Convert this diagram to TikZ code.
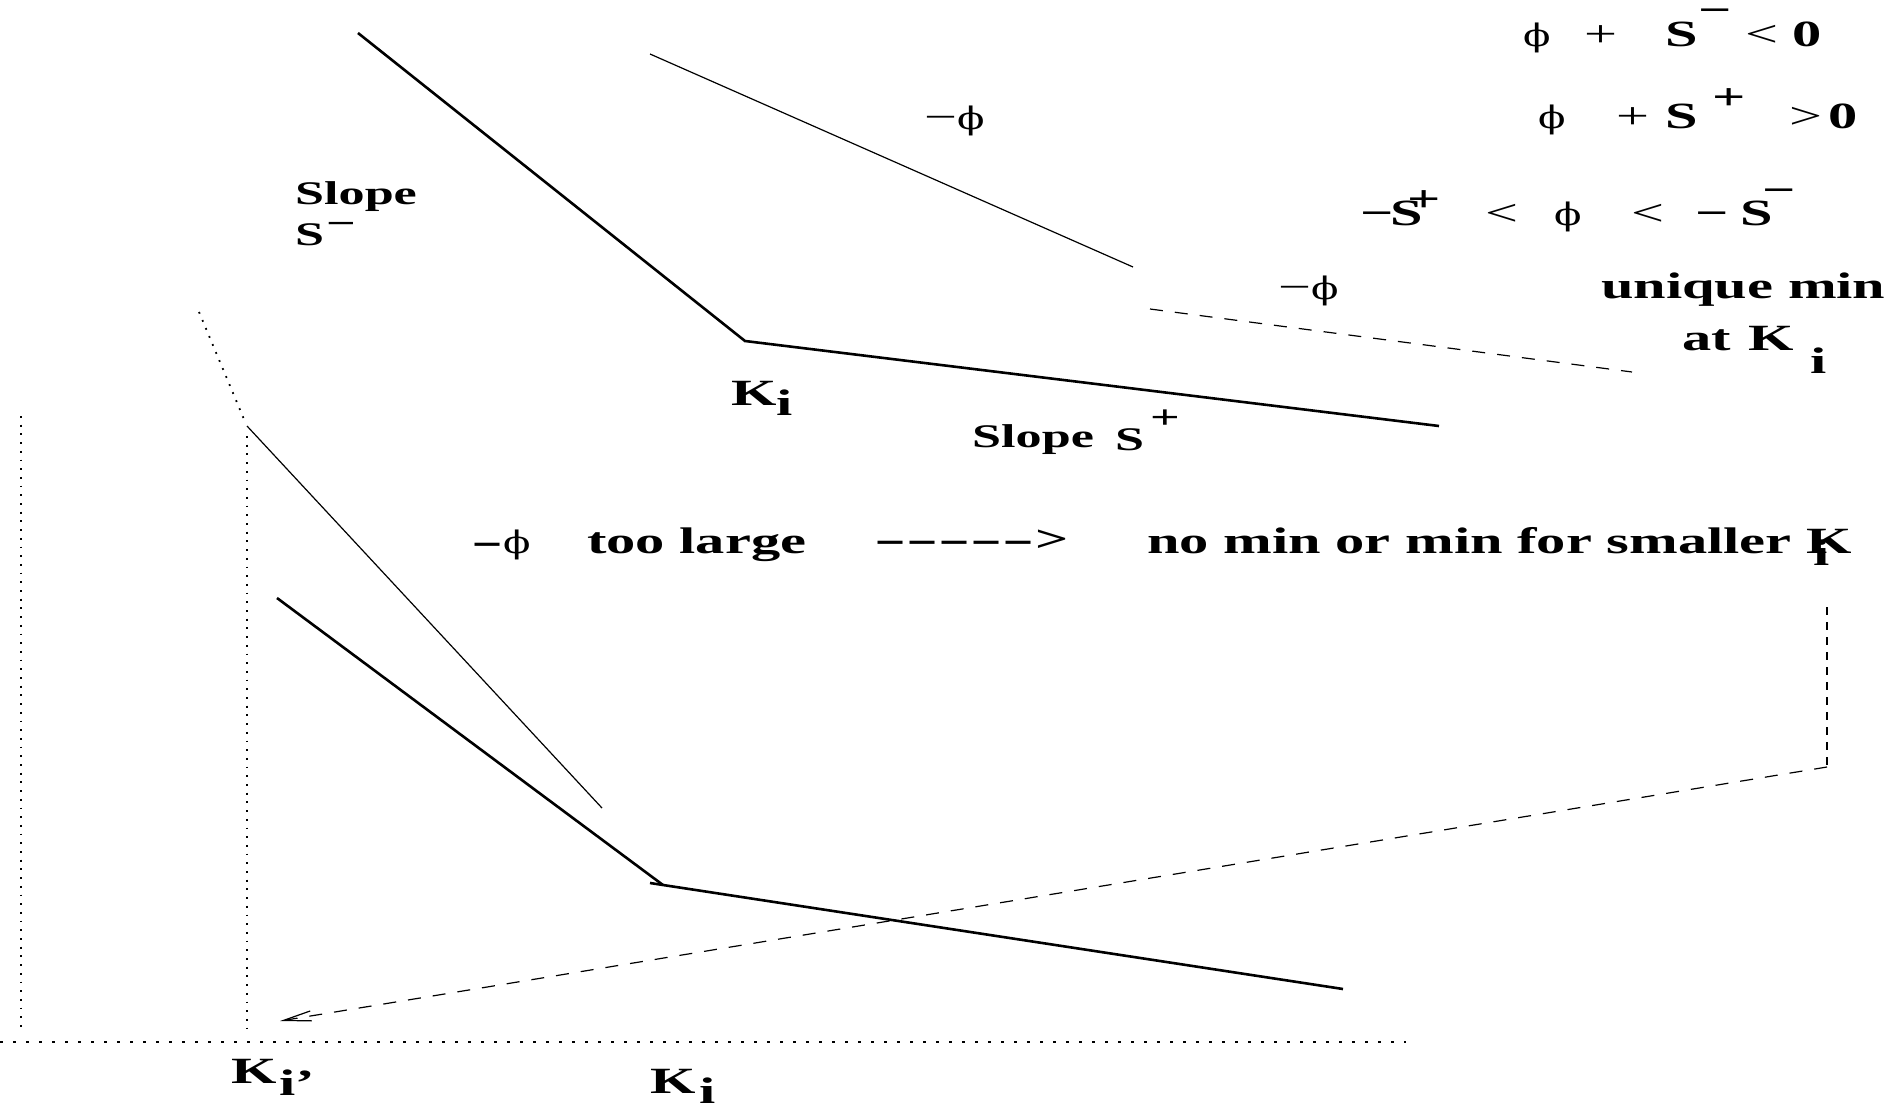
\documentclass[tikz,border=0pt]{standalone}
\usepackage{fontspec}
\setmainfont{Liberation Serif}[FakeStretch=1.58]
\newfontfamily\phif{DejaVu Serif}[FakeStretch=1.3]
\newfontfamily\dashfont{Liberation Serif}[FakeStretch=2.6]
\newcommand{\myphi}{{\phif\fontsize{31}{36}\selectfont ϕ}}
\usetikzlibrary{arrows.meta}
\begin{document}
\begin{tikzpicture}[x=1pt,y=-1pt,
  thickline/.style={line width=2.6pt},
  thinline/.style={line width=1.2pt},
  dashline/.style={line width=1.2pt, dash pattern=on 13pt off 12pt},
  vdashline/.style={line width=1.2pt, dash pattern=on 8pt off 7pt},
  vdots/.style={line width=1.8pt, dash pattern=on 1.8pt off 6.9pt},
  hdots/.style={line width=1.8pt, dash pattern=on 3pt off 10pt},
  bl/.style={inner sep=0pt, anchor=base west, font=\bfseries\fontsize{37}{40}\selectfont},
  rg/.style={inner sep=0pt, anchor=base west, font=\fontsize{37}{40}\selectfont},
  sl/.style={inner sep=0pt, anchor=base west, font=\bfseries\fontsize{33}{36}\selectfont},
  sup/.style={text height=10pt},
]
\useasboundingbox (0,0) rectangle (1887,1106);

% coordinates of the curves
\coordinate (a1) at (358,33);
\coordinate (a2) at (745,341);
\coordinate (a3) at (1439,426);
\coordinate (b1) at (650,54);
\coordinate (b2) at (1133,267);
\coordinate (c1) at (1150,309);
\coordinate (c2) at (1632,372);
\coordinate (d1) at (199,312);
\coordinate (d2) at (246,424);
\coordinate (e1) at (247,426);
\coordinate (e2) at (602,808);
\coordinate (f1) at (277,598);
\coordinate (f2) at (663,885);
\coordinate (f3) at (650,883);
\coordinate (f4) at (1343,989);
\coordinate (g1) at (247,436);
\coordinate (g2) at (247,1036);
\coordinate (h1) at (21,416);
\coordinate (h2) at (21,1032);
\coordinate (i1) at (0,1042);
\coordinate (i2) at (1406,1042);
\coordinate (j1) at (1827,607);
\coordinate (j2) at (1827,767);
\coordinate (j3) at (280,1021);

\draw[thickline] (a1) -- (a2) -- (a3);
\draw[thinline] (b1) -- (b2);
\draw[dashline] (c1) -- (c2);
\draw[vdots] (d1) -- (d2);
\draw[thinline] (e1) -- (e2);
\draw[thickline] (f1) -- (f2);
\draw[thickline] (f3) -- (f4);
\draw[vdots] (g1) -- (g2);
\draw[vdots] (h1) -- (h2);
\draw[hdots] (i1) -- (i2);
\draw[vdashline] (j1) -- (j2);
\draw[dashline, -{Straight Barb[length=28pt,width=10pt]}] (j2) -- (j3);

% top right conditions
\node[rg] (r1a) at (1523,46) {\myphi};
\node[rg] (r1b) at (1584,46) {+};
\node[bl] (r1c) at (1665,46) {S};
\node[bl,sup] (r1d) at (1698,22) {−};
\node[rg] (r1e) at (1745,46) {<};
\node[bl] (r1f) at (1792,46) {0};

\node[rg] (r2a) at (1538,128) {\myphi};
\node[rg] (r2b) at (1616,128) {+};
\node[bl] (r2c) at (1665,128) {S};
\node[bl,sup] (r2d) at (1712,109) {+};
\node[rg] (r2e) at (1789,128) {>};
\node[bl] (r2f) at (1828,128) {0};

\node[bl] (r3a) at (1360,225) {−};
\node[bl] (r3b) at (1390,225) {S};
\node[bl,sup] (r3c) at (1407,211) {+};
\node[rg] (r3d) at (1485,225) {<};
\node[rg] (r3e) at (1554,225) {\myphi};
\node[rg] (r3f) at (1631,225) {<};
\node[bl] (r3g) at (1695,225) {−};
\node[bl] (r3h) at (1740,225) {S};
\node[bl,sup] (r3i) at (1762,202) {−};

\node[rg] (mphi) at (1278,299) {−\myphi};
\node[bl] (uniq) at (1601,298) {unique min};
\node[bl] (atk) at (1682,350) {at\hspace{18pt}K};
\node[bl] (atki) at (1810,373) {i};

\node[rg] (tphi) at (924,129) {−\myphi};

\node[sl] (slope1) at (295,204) {Slope};
\node[sl] (sm) at (295,245) {S};
\node[sl,sup] (smsup) at (326,234) {−};

\node[bl] (k1) at (731,405) {K};
\node[bl] (k1i) at (776,415) {i};

\node[sl] (slope2) at (972,447) {Slope};
\node[sl] (sp) at (1115,450) {S};
\node[sl,sup] (spsup) at (1150,428) {+};

% middle row
\node[bl] (mphi2) at (471,553) {{\dashfont -}\textmd{\myphi}};
\node[bl] (toolarge) at (587,553) {too large};
\node[bl] (arrtxt) at (874,551) {{\dashfont -----}\kern1pt>};
\node[bl] (nomin) at (1147,553) {no min or min for smaller K};
\node[bl] (nomini) at (1813,565) {i};

% bottom labels
\node[bl] (kb1) at (231,1083) {K};
\node[bl] (kb1i) at (279,1095) {i’};
\node[bl] (kb2) at (650,1093) {K};
\node[bl,text depth=0pt] (kb2i) at (699,1103) {i};
\end{tikzpicture}
\end{document}
